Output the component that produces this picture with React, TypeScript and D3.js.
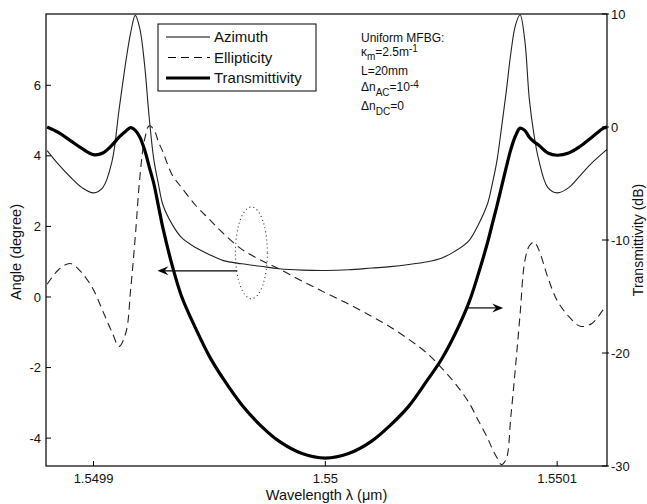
import React, { useRef, useEffect } from 'react';
import * as d3 from 'd3';

// wavelength offset from 1.55 um, in pm
const offsetPm = [-120, -115, -110, -105, -100, -96, -92, -89, -86, -84, -82, -80, -78, -76, -74, -72, -70, -66, -62, -56,
  -50, -44, -36, -28, -20, -10, 0, 10, 20, 28, 36, 44, 50, 56, 62, 66, 70, 72, 74, 76,
  78, 80, 82, 84, 86, 88, 90, 92, 96, 100, 105, 110, 115, 120, 121.5];

// angle (degree)
const azimuth = [4.15, 3.75, 3.4, 3.1, 2.95, 3.1, 3.85, 5.3, 6.7, 7.48, 7.98, 7.6, 6.6, 5.1, 3.9, 3.2, 2.6, 2.05, 1.68, 1.4,
  1.2, 1.03, 0.94, 0.87, 0.8, 0.76, 0.75, 0.77, 0.82, 0.86, 0.92, 1.0, 1.1, 1.3, 1.6, 2.05, 2.65, 3.2, 3.85, 4.8,
  5.8, 6.9, 7.7, 8.0, 7.3, 5.6, 4.6, 3.9, 3.1, 2.95, 3.1, 3.45, 3.8, 4.1, 4.18];

const ellipticity = [0.36, 0.78, 0.95, 0.68, 0.2, -0.4, -1.0, -1.4, -1.0, 0.2, 1.7, 3.4, 4.45, 4.85, 4.75, 4.4, 4.1, 3.45, 3.1, 2.6,
  2.2, 1.8, 1.35, 1.05, 0.8, 0.45, 0.12, -0.2, -0.55, -0.85, -1.2, -1.6, -2.0, -2.45, -3.0, -3.5, -4.0, -4.3, -4.55, -4.75,
  -4.6, -3.4, -2.0, -0.5, 1.0, 1.45, 1.56, 1.35, 0.55, -0.1, -0.55, -0.83, -0.75, -0.35, -0.25];

// dB
const transmittivity = [0.0, -0.5, -1.2, -1.9, -2.45, -2.3, -1.6, -0.9, -0.35, -0.05, -0.3, -0.9, -2.0, -3.5, -5.0, -7.0, -9.0, -12.3, -15.0, -17.8,
  -20.3, -22.3, -24.6, -26.4, -27.8, -28.9, -29.3, -28.9, -27.8, -26.4, -24.7, -22.4, -20.6, -18.3, -15.5, -13.0, -10.2, -8.6, -7.0, -5.3,
  -3.6, -2.0, -0.8, -0.1, -0.3, -0.9, -1.3, -1.6, -2.3, -2.5, -2.3, -1.7, -0.9, -0.1, 0.0];

const xTicks = [1.5499, 1.55, 1.5501];
const angleTicks = [-4, -2, 0, 2, 4, 6];
const dbTicks = [-30, -20, -10, 0, 10];
const legendLabels = ['Azimuth', 'Ellipticity', 'Transmittivity'];

const FONT = '"Liberation Sans", Arial, Helvetica, sans-serif';

const App = () => {
  const svgRef = useRef(null);

  useEffect(() => {
    const svg = d3.select(svgRef.current);
    svg.selectAll('*').remove();

    const width = 647;
    const height = 504;
    const margin = { top: 14, right: 40, bottom: 38, left: 46 };
    const x0 = margin.left, x1 = width - margin.right, y0 = margin.top, y1 = height - margin.bottom;

    const wavelength = offsetPm.map(d => 1.55 + d * 1e-6);

    const x = d3.scaleLinear().domain([1.55 - 120.5e-6, 1.55 + 121.5e-6]).range([x0, x1]);
    const yL = d3.scaleLinear().domain([-4.79, 8.02]).range([y1, y0]);
    const yR = d3.scaleLinear().domain([-30, 10]).range([y1, y0]);

    svg.append('rect').attr('width', width).attr('height', height).attr('fill', '#fff');

    svg.append('defs').append('clipPath').attr('id', 'plotclip')
      .append('rect').attr('x', x0).attr('y', y0).attr('width', x1 - x0).attr('height', y1 - y0);

    const curve = d3.curveCatmullRom.alpha(0.5);
    const lineL = d3.line().x((d, i) => x(wavelength[i])).y(d => yL(d)).curve(curve);
    const lineR = d3.line().x((d, i) => x(wavelength[i])).y(d => yR(d)).curve(curve);

    const plot = svg.append('g').attr('clip-path', 'url(#plotclip)');

    plot.append('path').datum(azimuth)
      .attr('fill', 'none').attr('stroke', '#222').attr('stroke-width', 1.1).attr('d', lineL);
    plot.append('path').datum(ellipticity)
      .attr('fill', 'none').attr('stroke', '#222').attr('stroke-width', 1.1)
      .attr('stroke-dasharray', '8,5').attr('d', lineL);
    plot.append('path').datum(transmittivity)
      .attr('fill', 'none').attr('stroke', '#000').attr('stroke-width', 3.2).attr('d', lineR);

    // frame
    svg.append('rect').attr('x', x0).attr('y', y0).attr('width', x1 - x0).attr('height', y1 - y0)
      .attr('fill', 'none').attr('stroke', '#000').attr('stroke-width', 1.2);

    const tickLen = 5;
    // x ticks
    xTicks.forEach(t => {
      svg.append('line').attr('x1', x(t)).attr('x2', x(t)).attr('y1', y1).attr('y2', y1 - tickLen)
        .attr('stroke', '#000');
      svg.append('text').attr('x', x(t)).attr('y', y1 + 17).attr('text-anchor', 'middle')
        .style('font-family', FONT).style('font-size', '13px').attr('fill', '#111')
        .text(String(+t.toFixed(4)));
    });
    // left ticks
    angleTicks.forEach(t => {
      svg.append('line').attr('x1', x0).attr('x2', x0 + tickLen).attr('y1', yL(t)).attr('y2', yL(t))
        .attr('stroke', '#000');
      svg.append('text').attr('x', x0 - 5).attr('y', yL(t)).attr('dy', '0.35em').attr('text-anchor', 'end')
        .style('font-family', FONT).style('font-size', '13px').attr('fill', '#111')
        .text(t);
    });
    // right ticks
    dbTicks.forEach(t => {
      svg.append('line').attr('x1', x1 - tickLen).attr('x2', x1 + 2).attr('y1', yR(t)).attr('y2', yR(t))
        .attr('stroke', '#000');
      svg.append('text').attr('x', x1 + 4).attr('y', yR(t)).attr('dy', '0.35em').attr('text-anchor', 'start')
        .style('font-family', FONT).style('font-size', '13px').attr('fill', '#111')
        .text(t);
    });

    // axis titles
    svg.append('text').attr('x', (x0 + x1) / 2).attr('y', height - 4).attr('text-anchor', 'middle')
      .style('font-family', FONT).style('font-size', '14.5px').attr('fill', '#111')
      .text('Wavelength λ (μm)');
    svg.append('text').attr('transform', `translate(21,${(y0 + y1) / 2 + 12}) rotate(-90)`)
      .attr('text-anchor', 'middle')
      .style('font-family', FONT).style('font-size', '14.5px').attr('fill', '#111')
      .text('Angle (degree)');
    svg.append('text').attr('transform', `translate(643,${(y0 + y1) / 2}) rotate(-90)`)
      .attr('text-anchor', 'middle')
      .style('font-family', FONT).style('font-size', '14px').attr('fill', '#111')
      .text('Transmittivity (dB)');

    // legend
    const lg = svg.append('g').attr('transform', 'translate(158,24)');
    lg.append('rect').attr('width', 158).attr('height', 67).attr('fill', '#fff')
      .attr('stroke', '#000').attr('stroke-width', 1);
    const styles = [
      { w: 1.1, dash: null },
      { w: 1.1, dash: '8,5' },
      { w: 3.2, dash: null },
    ];
    legendLabels.forEach((lab, i) => {
      const yy = 13 + i * 20.5;
      const l = lg.append('line').attr('x1', 8).attr('x2', 52).attr('y1', yy).attr('y2', yy)
        .attr('stroke', '#000').attr('stroke-width', styles[i].w);
      if (styles[i].dash) l.attr('stroke-dasharray', styles[i].dash).attr('x1', 10);
      lg.append('text').attr('x', 56).attr('y', yy).attr('dy', '0.35em')
        .style('font-family', FONT).style('font-size', '15px').attr('fill', '#111')
        .text(lab);
    });

    // parameter block
    const pg = svg.append('g').style('font-family', FONT).attr('fill', '#111');
    const px = 361;
    pg.append('text').attr('x', px).attr('y', 42).style('font-size', '12px').text('Uniform MFBG:');
    const k = pg.append('text').attr('x', px).attr('y', 56).style('font-size', '12px');
    k.append('tspan').text('κ');
    k.append('tspan').attr('dy', 4).style('font-size', '10px').text('m');
    k.append('tspan').attr('dy', -4).text('=2.5m');
    k.append('tspan').attr('dy', -4).style('font-size', '10px').text('-1');
    pg.append('text').attr('x', px).attr('y', 75).style('font-size', '12px').text('L=20mm');
    const ac = pg.append('text').attr('x', px).attr('y', 91).style('font-size', '12px');
    ac.append('tspan').text('Δn');
    ac.append('tspan').attr('dy', 5).style('font-size', '10px').text('AC');
    ac.append('tspan').attr('dy', -5).text('=10');
    ac.append('tspan').attr('dy', -3.5).style('font-size', '10px').text('-4');
    const dc = pg.append('text').attr('x', px).attr('y', 110).style('font-size', '12px');
    dc.append('tspan').text('Δn');
    dc.append('tspan').attr('dy', 5).style('font-size', '10px').text('DC');
    dc.append('tspan').attr('dy', -5).text('=0');

    // arrows
    const arrow = (fromPm, toPm, angle) => {
      const xa = x(1.55 + fromPm * 1e-6), xb = x(1.55 + toPm * 1e-6), yy = yL(angle);
      const dir = xb > xa ? 1 : -1;
      svg.append('line').attr('x1', xa).attr('x2', xb - dir * 6).attr('y1', yy).attr('y2', yy)
        .attr('stroke', '#000').attr('stroke-width', 1.2);
      svg.append('path')
        .attr('d', `M${xb},${yy} L${xb - dir * 11},${yy - 4.5} L${xb - dir * 7},${yy} L${xb - dir * 11},${yy + 4.5} Z`)
        .attr('fill', '#000');
    };
    arrow(-38, -72.4, 0.74);
    arrow(61.2, 76.7, -0.31);

    // dotted ellipse
    const cx = x(1.55 - 31.9e-6);
    svg.append('ellipse').attr('cx', cx).attr('cy', yL(1.25))
      .attr('rx', x(1.55 - 25e-6) - cx).attr('ry', yL(0) - yL(1.3))
      .attr('fill', 'none').attr('stroke', '#333').attr('stroke-width', 1.1)
      .attr('stroke-dasharray', '1,3');
  }, []);

  return (
    <svg ref={svgRef} width={647} height={504}
      style={{ position: 'absolute', left: 0, top: 0, display: 'block' }}></svg>
  );
};

export default App;
